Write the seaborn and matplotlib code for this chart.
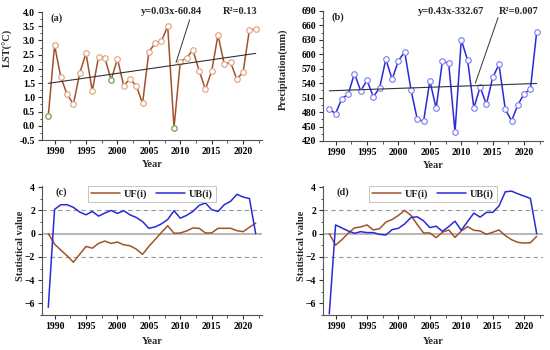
import numpy as np
import pandas as pd
import matplotlib.pyplot as plt
import seaborn as sns
from matplotlib.ticker import MultipleLocator

years = list(range(1989, 2023))

# (a) land surface temperature
lst = [0.34, 2.83, 1.70, 1.10, 0.76, 1.85, 2.55, 1.22, 2.43, 2.39,
       1.61, 2.35, 1.41, 1.65, 1.40, 0.79, 2.60, 2.90, 2.98, 3.50,
       -0.07, 2.25, 2.39, 2.66, 1.94, 1.28, 1.93, 3.19, 2.16, 2.23,
       1.63, 1.90, 3.37, 3.39]
green_years = [1989, 1999, 2009]

# (b) precipitation
precip = [486, 477, 508, 517, 560, 524, 546, 512, 530, 590,
          548, 587, 605, 526, 465, 461, 545, 488, 586, 581,
          439, 630, 588, 489, 532, 496, 552, 579, 486, 462,
          495, 518, 528, 647]

# (c) Mann-Kendall for LST
uf_lst = [0.0, -0.90, -1.42, -1.91, -2.46, -1.77, -1.10, -1.25, -0.84, -0.64,
          -0.84, -0.72, -0.96, -1.04, -1.33, -1.78, -1.10, -0.50, 0.10, 0.68,
          0.03, 0.06, 0.23, 0.49, 0.46, 0.06, 0.06, 0.46, 0.46, 0.46,
          0.26, 0.17, 0.55, 0.90]
ub_lst = [-6.34, 2.09, 2.49, 2.49, 2.26, 1.86, 1.62, 1.91, 1.51, 1.77,
          2.00, 1.74, 1.97, 1.62, 1.39, 1.04, 0.46, 0.58, 0.84, 1.22,
          1.97, 1.33, 1.57, 1.91, 2.43, 2.64, 2.06, 1.91, 2.49, 2.78,
          3.38, 3.15, 3.02, 0.0]

# (d) Mann-Kendall for precipitation
uf_pre = [0.0, -0.99, -0.52, 0.03, 0.49, 0.58, 0.75, 0.32, 0.43, 0.99,
          1.22, 1.57, 2.00, 1.57, 0.78, 0.06, 0.06, -0.35, 0.12, 0.32,
          -0.32, 0.23, 0.61, 0.29, 0.23, -0.06, 0.12, 0.32, -0.17, -0.52,
          -0.75, -0.81, -0.78, -0.23]
ub_pre = [-6.9, 0.75, 0.49, 0.23, 0.03, 0.17, 0.09, 0.09, -0.06, -0.12,
          0.35, 0.46, 0.84, 1.39, 1.45, 1.10, 0.52, 0.64, 0.20, 0.61,
          1.07, 0.29, 1.04, 1.77, 1.42, 1.83, 1.83, 2.38, 3.60, 3.66,
          3.43, 3.23, 3.03, 0.0]

brown = '#A0522D'
blue = '#2A2AD8'

sns.set_style('ticks')
plt.rcParams['font.family'] = ['Liberation Serif', 'DejaVu Serif']
plt.rcParams['font.weight'] = 'bold'
plt.rcParams['axes.labelweight'] = 'bold'

fig = plt.figure(figsize=(5.5, 3.5), dpi=100)
ax_a = fig.add_axes([42/550, 1-140/350, 220/550, 128/350])
ax_b = fig.add_axes([323/550, 1-141/350, 220/550, 130/350])
ax_c = fig.add_axes([42/550, 1-315/350, 220/550, 129/350])
ax_d = fig.add_axes([323/550, 1-315/350, 220/550, 129/350])

df = pd.DataFrame({'year': years, 'lst': lst, 'precip': precip,
                   'uf_lst': uf_lst, 'ub_lst': ub_lst,
                   'uf_pre': uf_pre, 'ub_pre': ub_pre})


def style(ax):
    sns.despine(ax=ax)
    ax.set_xlim(1988, 2023)
    ax.xaxis.set_major_locator(MultipleLocator(5))
    ax.xaxis.set_minor_locator(MultipleLocator(2.5))
    ax.tick_params(which='major', length=3, width=0.8, labelsize=7, pad=2,
                   colors='#333333', labelcolor='black')
    ax.tick_params(which='minor', length=1.8, width=0.6, colors='#333333')
    for s in ax.spines.values():
        s.set_color('#555555')
        s.set_linewidth(0.8)
    for lab in ax.get_xticklabels() + ax.get_yticklabels():
        lab.set_fontweight('bold')
    ax.set_xlabel('Year', fontsize=7.5, fontweight='bold')


# (a)
sns.lineplot(data=df, x='year', y='lst', ax=ax_a, color=brown, lw=1.1,
             marker='o', markersize=4, markerfacecolor='white',
             markeredgecolor='#E0A07A', markeredgewidth=0.8)
gdf = df[df['year'].isin(green_years)]
sns.scatterplot(data=gdf, x='year', y='lst', ax=ax_a, s=14,
                facecolor='white', edgecolor='#60B060', linewidth=0.8, zorder=5)
sns.regplot(data=df, x='year', y='lst', ax=ax_a, scatter=False, ci=None,
            line_kws={'color': '#333333', 'lw': 0.8})
ax_a.set_ylim(-0.5, 4.0)
ax_a.yaxis.set_major_locator(MultipleLocator(0.5))
ax_a.yaxis.set_minor_locator(MultipleLocator(0.25))
style(ax_a)
ax_a.yaxis.set_major_formatter(plt.FormatStrFormatter('%.1f'))
ax_a.set_ylabel('LST(°C)', fontsize=7.5)
ax_a.yaxis.set_label_coords(-0.132, 0.72)
ax_a.xaxis.set_label_coords(0.5, -0.16)
ka, ba = np.polyfit(years, lst, 1)
ax_a.annotate('', xy=(2009.2, ka*2009.2+ba), xytext=(0.675, 0.96),
              textcoords='axes fraction',
              arrowprops=dict(arrowstyle='-', color='#333333', lw=0.7))
ax_a.text(0.04, 0.99, '(a)', transform=ax_a.transAxes, fontsize=7.5,
          fontweight='bold', va='top')
ax_a.text(0.59, 1.0, 'y=0.03x-60.84', transform=ax_a.transAxes, fontsize=7.5,
          fontweight='bold', ha='center', va='center')
ax_a.text(0.82, 1.0, 'R²=0.13', transform=ax_a.transAxes, fontsize=7.5,
          fontweight='bold', ha='left', va='center')

# (b)
sns.lineplot(data=df, x='year', y='precip', ax=ax_b, color=blue, lw=1.1,
             marker='o', markersize=4, markerfacecolor='white',
             markeredgecolor='#7A7AF0', markeredgewidth=0.8)
sns.regplot(data=df, x='year', y='precip', ax=ax_b, scatter=False, ci=None,
            line_kws={'color': '#333333', 'lw': 0.8})
ax_b.set_ylim(420, 690)
ax_b.yaxis.set_major_locator(MultipleLocator(30))
ax_b.yaxis.set_minor_locator(MultipleLocator(15))
style(ax_b)
ax_b.set_ylabel('Precipitation(mm)', fontsize=7.5)
ax_b.yaxis.set_label_coords(-0.158, 0.55)
ax_b.xaxis.set_label_coords(0.5, -0.155)
kb, bb = np.polyfit(years, precip, 1)
ax_b.annotate('', xy=(2012.1, kb*2012.1+bb), xytext=(0.8, 0.97),
              textcoords='axes fraction',
              arrowprops=dict(arrowstyle='-', color='#333333', lw=0.7))
ax_b.text(0.04, 0.99, '(b)', transform=ax_b.transAxes, fontsize=7.5,
          fontweight='bold', va='top')
ax_b.text(0.58, 1.0, 'y=0.43x-332.67', transform=ax_b.transAxes, fontsize=7.5,
          fontweight='bold', ha='center', va='center')
ax_b.text(0.80, 1.0, 'R²=0.007', transform=ax_b.transAxes, fontsize=7.5,
          fontweight='bold', ha='left', va='center')

# (c) and (d)
for ax, uf, ub, tag in [(ax_c, 'uf_lst', 'ub_lst', '(c)'),
                        (ax_d, 'uf_pre', 'ub_pre', '(d)')]:
    ax.axhline(0, color='#aaaaaa', lw=1.2, zorder=0)
    for lv in (2, -2):
        ax.axhline(lv, color='#999999', lw=0.8, ls=(0, (4, 3)), zorder=0)
    sns.lineplot(data=df, x='year', y=uf, ax=ax, color=brown, lw=1.1,
                 label='UF(i)')
    sns.lineplot(data=df, x='year', y=ub, ax=ax, color=blue, lw=1.1,
                 label='UB(i)')
    ax.set_ylim(-7, 4.1)
    ax.yaxis.set_major_locator(MultipleLocator(2))
    ax.yaxis.set_minor_locator(MultipleLocator(1))
    style(ax)
    ax.set_ylabel('Statistical value', fontsize=7.5)
    ax.yaxis.set_label_coords(-0.077, 0.535)
    ax.xaxis.set_label_coords(0.5, -0.17)
    ax.text(0.06, 0.99, tag, transform=ax.transAxes, fontsize=7.5,
            fontweight='bold', va='top')
    leg = ax.legend(loc='upper center', bbox_to_anchor=(0.5, 1.04), ncol=2,
                    fontsize=7.5, handlelength=2.8, columnspacing=0.8,
                    handletextpad=0.4, borderpad=0.3, fancybox=False,
                    framealpha=1, edgecolor='#bbbbbb',
                    prop={'weight': 'bold', 'size': 7.5})
    leg.get_frame().set_linewidth(0.6)

fig.savefig('out.png', dpi=100)
